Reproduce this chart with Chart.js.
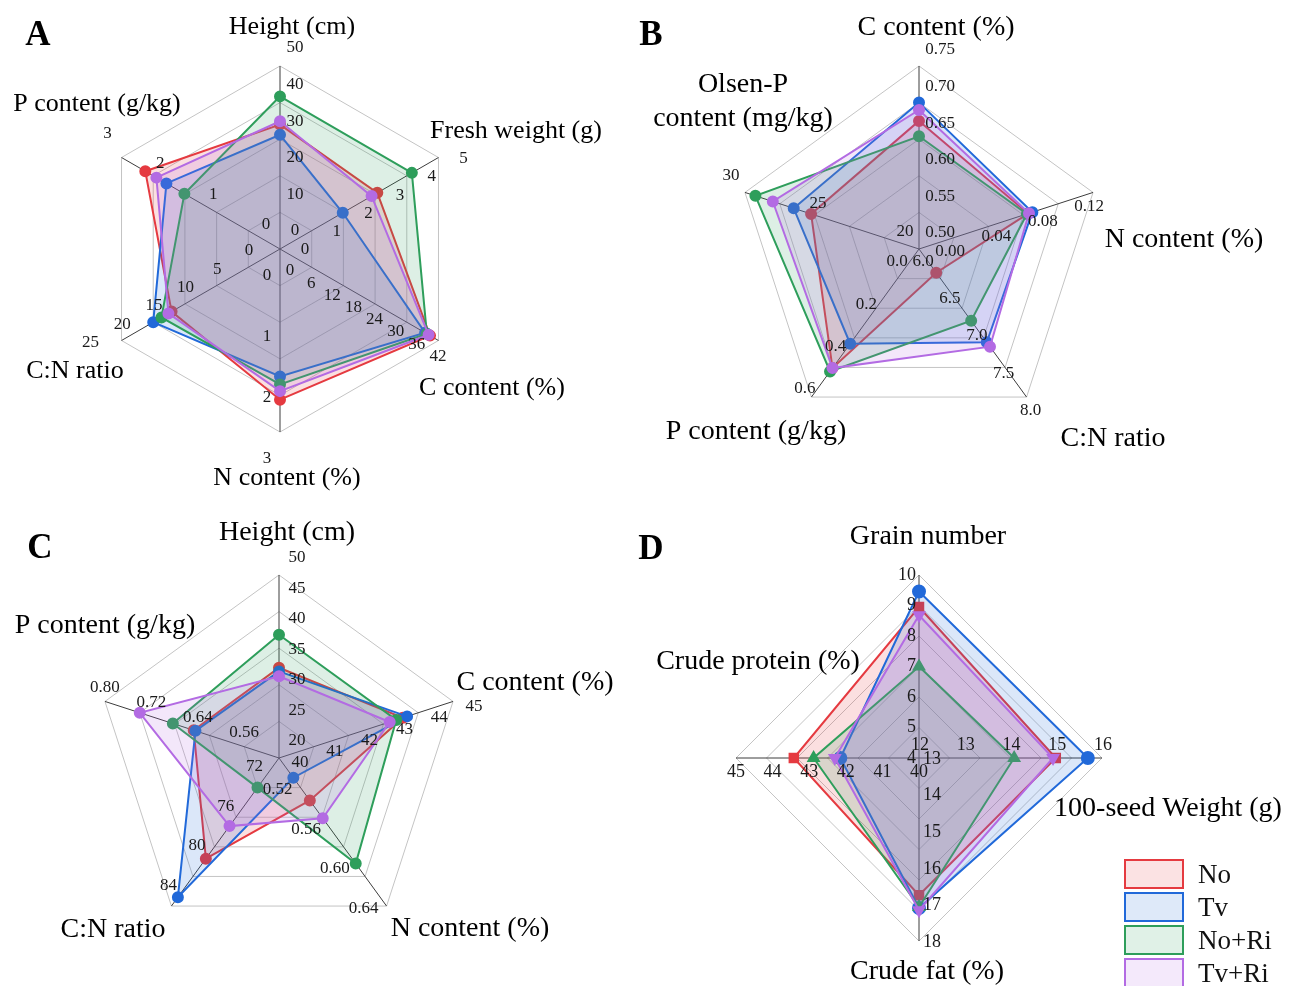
<!DOCTYPE html>
<html>
<head>
<meta charset="utf-8">
<script src="https://cdn.jsdelivr.net/npm/chart.js@4.4.1/dist/chart.umd.min.js"></script>
<style>
html,body{margin:0;padding:0;background:#ffffff;width:1293px;height:986px;overflow:hidden;}
canvas{position:absolute;left:0;top:0;}
</style>
</head>
<body>
<canvas id="cA" width="1293" height="986"></canvas>
<canvas id="cB" width="1293" height="986"></canvas>
<canvas id="cC" width="1293" height="986"></canvas>
<canvas id="cD" width="1293" height="986"></canvas>
<script>
// ---------- series ----------
const seriesNames = ['No', 'Tv', 'No+Ri', 'Tv+Ri'];
const seriesColors = ['#e53a40', '#2169d9', '#2e9e5b', '#b36be3'];

// ---------- Panel A ----------
const axesA = ['Height (cm)', 'Fresh weight (g)', 'C content (%)', 'N content (%)', 'C:N ratio', 'P content (g/kg)'];
const minA = [0, 0, 0, 0, 0, 0];
const maxA = [50, 5, 45, 3, 25, 3];
const ticksA = [
  ['0', '10', '20', '30', '40', '50'],
  ['0', '1', '2', '3', '4', '5'],
  ['0', '6', '12', '18', '24', '30', '36', '42'],
  ['0', '1', '2', '3'],
  ['0', '5', '10', '15', '20', '25'],
  ['0', '1', '2', '3']
];
const A_No   = [34.0, 3.07, 42.6, 2.47, 17.1, 2.55];
const A_Tv   = [31.2, 1.98, 41.2, 2.09, 20.0, 2.15];
const A_NoRi = [41.7, 4.16, 41.7, 2.22, 18.7, 1.81];
const A_TvRi = [34.9, 2.89, 42.2, 2.33, 17.6, 2.34];

// ---------- Panel B ----------
const axesB = ['C content (%)', 'N content (%)', 'C:N ratio', 'P content (g/kg)', 'Olsen-P content (mg/kg)'];
const minB = [0.50, 0, 6.0, 0, 20];
const maxB = [0.75, 0.15, 8.0, 0.7, 30];
const ticksB = [
  ['0.50', '0.55', '0.60', '0.65', '0.70', '0.75'],
  ['0.00', '0.04', '0.08', '0.12'],
  ['6.0', '6.5', '7.0', '7.5', '8.0'],
  ['0.0', '0.2', '0.4', '0.6'],
  ['20', '25', '30']
];
const B_No   = [0.675, 0.0940, 6.32, 0.563, 26.2];
const B_Tv   = [0.700, 0.0977, 7.26, 0.448, 27.2];
const B_NoRi = [0.654, 0.0930, 6.97, 0.579, 29.4];
const B_TvRi = [0.690, 0.0948, 7.32, 0.563, 28.4];

// ---------- Panel C ----------
const axesC = ['Height (cm)', 'C content (%)', 'N content (%)', 'C:N ratio', 'P content (g/kg)'];
const minC = [20, 40, 0.49, 69, 0.50];
const maxC = [50, 45, 0.64, 84, 0.80];
const ticksC = [
  ['20', '25', '30', '35', '40', '45', '50'],
  ['40', '41', '42', '43', '44', '45'],
  ['0.52', '0.56', '0.60', '0.64'],
  ['72', '76', '80', '84'],
  ['0.56', '0.64', '0.72', '0.80']
];
const C_No   = [34.8, 43.56, 0.533, 79.2, 0.647];
const C_Tv   = [34.2, 43.68, 0.510, 83.1, 0.644];
const C_NoRi = [40.2, 43.37, 0.597, 72.0, 0.683];
const C_TvRi = [33.4, 43.18, 0.551, 75.9, 0.740];

// ---------- Panel D ----------
const axesD = ['Grain number', '100-seed Weight (g)', 'Crude fat (%)', 'Crude protein (%)'];
const minD = [4, 12, 13, 40];
const maxD = [10, 16, 18, 45];
const ticksD = [
  ['4', '5', '6', '7', '8', '9', '10'],
  ['12', '13', '14', '15', '16'],
  ['13', '14', '15', '16', '17', '18'],
  ['40', '41', '42', '43', '44', '45']
];
const D_No   = [8.95, 14.99, 16.75, 43.42];
const D_Tv   = [9.46, 15.69, 17.10, 42.15];
const D_NoRi = [7.00, 14.08, 17.07, 42.88];
const D_TvRi = [8.68, 14.93, 17.16, 42.30];

// ---------- layout (positions / styles) ----------
const W = 1293, H = 986, R = 183;
const SERIF = '"Liberation Serif", "Times New Roman", serif';

function rgba(hex, a) {
  const n = parseInt(hex.slice(1), 16);
  return `rgba(${(n >> 16) & 255},${(n >> 8) & 255},${n & 255},${a})`;
}
function norm(vals, mins, maxs, rings) {
  return vals.map((v, i) => (v - mins[i]) / (maxs[i] - mins[i]) * rings);
}

const panels = [
  {
    id: 'cA', letter: 'A', letterPos: [38, 36], cx: 280, cy: 249, rings: 5,
    axes: axesA, min: minA, max: maxA, ticks: ticksA,
    series: [A_No, A_Tv, A_NoRi, A_TvRi],
    tickFont: 17, titleFont: 26,
    tickOff: [[15, -18, 'center'], [25, 1, 'center'], [10, 22, 'center'], [-13, 27, 'center'], [-31, 2, 'center'], [-14, -24, 'center']],
    titles: [
      [['Height (cm)'], 292, 27], [['Fresh weight (g)'], 516, 131], [['C content (%)'], 492, 388],
      [['N content (%)'], 287, 478], [['C:N ratio'], 75, 371], [['P content (g/kg)'], 97, 104]
    ]
  },
  {
    id: 'cB', letter: 'B', letterPos: [651, 36], cx: 919, cy: 249, rings: 5,
    axes: axesB, min: minB, max: maxB, ticks: ticksB,
    series: [B_No, B_Tv, B_NoRi, B_TvRi],
    tickFont: 17, titleFont: 28,
    tickOff: [[21, -16, 'center'], [31, 3, 'center'], [4, 13, 'center'], [-22, 13, 'center'], [-14, -17, 'center']],
    titles: [
      [['C content (%)'], 936, 28], [['N content (%)'], 1184, 240], [['C:N ratio'], 1113, 439],
      [['P content (g/kg)'], 756, 432], [['Olsen-P', 'content (mg/kg)'], 743, 85]
    ]
  },
  {
    id: 'cC', letter: 'C', letterPos: [40, 549], cx: 279, cy: 758, rings: 5,
    axes: axesC, min: minC, max: maxC, ticks: ticksC,
    series: [C_No, C_Tv, C_NoRi, C_TvRi],
    tickFont: 17, titleFont: 28,
    tickOff: [[18, -17, 'center'], [21, 5, 'center'], [-23, 2, 'center'], [-3, -21, 'center'], [0, -14, 'center']],
    titles: [
      [['Height (cm)'], 287, 533], [['C content (%)'], 535, 683], [['N content (%)'], 470, 929],
      [['C:N ratio'], 113, 930], [['P content (g/kg)'], 105, 626]
    ]
  },
  {
    id: 'cD', letter: 'D', letterPos: [651, 550], cx: 919, cy: 758, rings: 6,
    axes: axesD, min: minD, max: maxD, ticks: ticksD,
    series: [D_No, D_Tv, D_NoRi, D_TvRi],
    markers: ['rect', 'circle', 'triangle', 'triangle'],
    rotations: [0, 0, 0, 180],
    tickFont: 18, titleFont: 28,
    tickOff: [[-3, 0, 'right'], [1, -13, 'center'], [13, 1, 'center'], [0, 14, 'center']],
    titles: [
      [['Grain number'], 928, 537], [['100-seed Weight (g)'], 1168, 809],
      [['Crude fat (%)'], 927, 972], [['Crude protein (%)'], 758, 662]
    ],
    legend: true
  }
];

function textPlugin(p) {
  return {
    id: 'text_' + p.id,
    afterDraw(chart) {
      const s = chart.scales.r, ctx = chart.ctx;
      ctx.save();
      ctx.fillStyle = '#1a1a1a';
      ctx.textBaseline = 'middle';
      // tick labels
      ctx.font = `${p.tickFont}px ${SERIF}`;
      p.ticks.forEach((labels, i) => {
        const off = p.tickOff[i];
        ctx.textAlign = off[2];
        labels.forEach(t => {
          const val = (parseFloat(t) - p.min[i]) / (p.max[i] - p.min[i]) * p.rings;
          const pt = s.getPointPositionForValue(i, val);
          ctx.fillText(t, pt.x + off[0], pt.y + off[1]);
        });
      });
      // axis titles
      ctx.fillStyle = '#000';
      ctx.textAlign = 'center';
      ctx.font = `${p.titleFont}px ${SERIF}`;
      p.titles.forEach(([lines, x, y]) => {
        lines.forEach((ln, k) => ctx.fillText(ln, x, y + k * 34));
      });
      // panel letter
      ctx.font = `bold 35px ${SERIF}`;
      ctx.fillText(p.letter, p.letterPos[0], p.letterPos[1]);
      // legend
      if (p.legend) {
        ctx.textAlign = 'left';
        ctx.font = `27px ${SERIF}`;
        seriesNames.forEach((nm, k) => {
          const y0 = 860 + k * 33;
          ctx.fillStyle = rgba(seriesColors[k], 0.15);
          ctx.fillRect(1125, y0, 58, 28);
          ctx.strokeStyle = seriesColors[k];
          ctx.lineWidth = 2;
          ctx.strokeRect(1125, y0, 58, 28);
          ctx.fillStyle = '#111';
          ctx.fillText(nm, 1198, y0 + 16);
        });
      }
      ctx.restore();
    }
  };
}

panels.forEach(p => {
  const datasets = p.series.map((vals, k) => ({
    label: seriesNames[k],
    data: norm(vals, p.min, p.max, p.rings),
    order: p.series.length - k,
    borderColor: seriesColors[k],
    backgroundColor: rgba(seriesColors[k], 0.16),
    pointBackgroundColor: seriesColors[k],
    pointBorderColor: seriesColors[k],
    pointRadius: p.markers ? 6 : 5,
    pointHoverRadius: 5,
    pointStyle: p.markers ? p.markers[k] : 'circle',
    pointRotation: p.rotations ? p.rotations[k] : 0,
    borderWidth: 2,
    fill: 'origin',
    tension: 0,
    clip: false
  }));
  new Chart(document.getElementById(p.id), {
    type: 'radar',
    data: { labels: p.axes, datasets },
    options: {
      responsive: false,
      animation: false,
      devicePixelRatio: 1,
      events: [],
      layout: { padding: { left: p.cx - R, top: p.cy - R, right: W - (p.cx + R), bottom: H - (p.cy + R) } },
      plugins: { legend: { display: false }, tooltip: { enabled: false } },
      scales: {
        r: {
          min: 0, max: p.rings,
          ticks: { display: false, stepSize: 1 },
          grid: { color: '#c4c4c4', lineWidth: 1 },
          angleLines: { color: '#3c3c3c', lineWidth: 1 },
          pointLabels: { display: false }
        }
      }
    },
    plugins: [textPlugin(p)]
  });
});
</script>
</body>
</html>
